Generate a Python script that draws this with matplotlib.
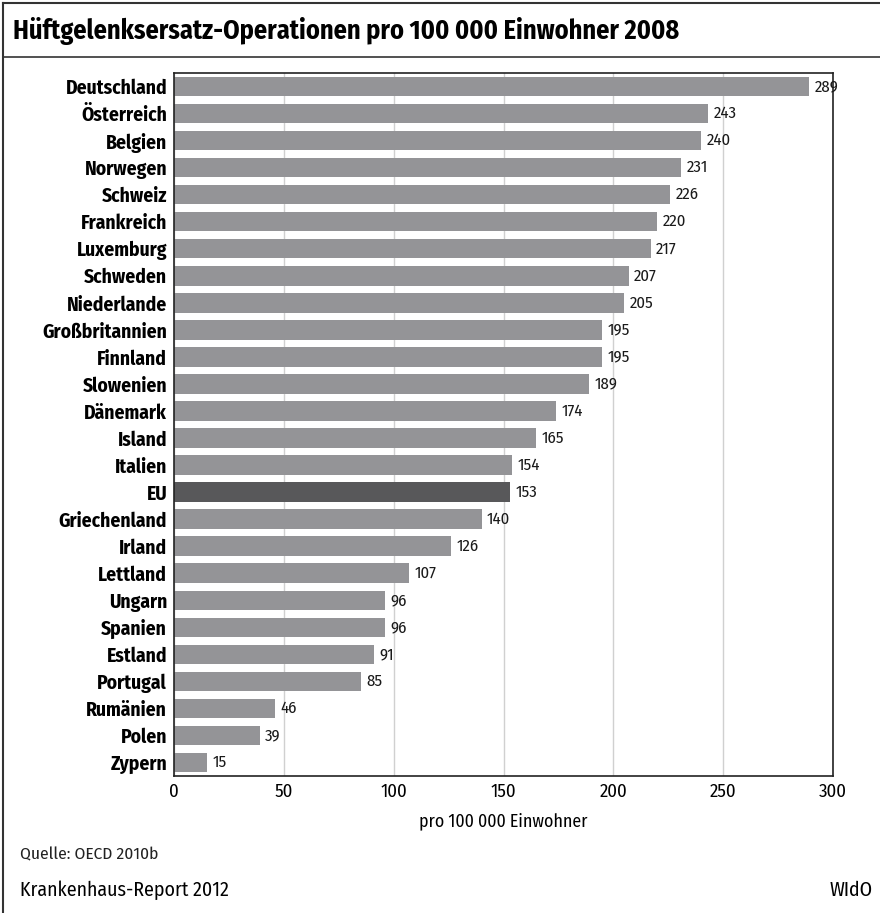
import matplotlib
matplotlib.use("Agg")
from matplotlib import pyplot as plt
from matplotlib.lines import Line2D
import numpy as np

countries = ["Deutschland", "Österreich", "Belgien", "Norwegen", "Schweiz",
             "Frankreich", "Luxemburg", "Schweden", "Niederlande",
             "Großbritannien", "Finnland", "Slowenien", "Dänemark", "Island",
             "Italien", "EU", "Griechenland", "Irland", "Lettland", "Ungarn",
             "Spanien", "Estland", "Portugal", "Rumänien", "Polen", "Zypern"]
values = [289, 243, 240, 231, 226, 220, 217, 207, 205, 195, 195, 189, 174,
          165, 154, 153, 140, 126, 107, 96, 96, 91, 85, 46, 39, 15]
x_ticks = [0, 50, 100, 150, 200, 250, 300]

plt.rcParams['font.family'] = ['Fira Sans Condensed', 'DejaVu Sans']

fig = plt.figure(figsize=(8.8, 9.13), dpi=100)
ax = fig.add_axes([174 / 880, 1 - 776 / 913, (833 - 174) / 880, (776 - 73) / 913])

ypos = np.arange(len(countries))
colors = ["#58585a" if c == "EU" else "#949497" for c in countries]
ax.barh(ypos, values, height=0.72, color=colors, zorder=2)
for y, v in zip(ypos, values):
    ax.text(v + 2.5, y, str(v), va="center", ha="left", fontsize=12, color="#1a1a1a")

ax.set_ylim(len(countries) - 0.5, -0.5)
ax.set_xlim(0, 300)
ax.set_yticks(ypos)
ax.set_yticklabels(countries, fontsize=14, fontweight="bold")
ax.set_xticks(x_ticks)
ax.set_xticklabels([str(t) for t in x_ticks], fontsize=13.5)
ax.tick_params(axis="both", length=0, pad=5)
ax.tick_params(axis="y", pad=5)
ax.grid(axis="x", color="#d0d0d0", linewidth=1, zorder=0)
ax.set_axisbelow(True)
for s in ax.spines.values():
    s.set_color("#222222")
    s.set_linewidth(1.2)
ax.set_xlabel("pro 100 000 Einwohner", fontsize=12.8, labelpad=8)

# Rahmen und Texte
fig.add_artist(Line2D([3 / 880, 3 / 880], [0, 1 - 3 / 913], color="#333333", lw=1.5))
fig.add_artist(Line2D([3 / 880, 1], [1 - 3 / 913, 1 - 3 / 913], color="#333333", lw=1.5))
fig.add_artist(Line2D([3 / 880, 1], [1 - 57 / 913, 1 - 57 / 913], color="#333333", lw=1.2))
fig.text(13 / 880, 1 - 31 / 913, "Hüftgelenksersatz-Operationen pro 100 000 Einwohner 2008",
         fontsize=18.9, fontweight="bold", va="center", ha="left")
fig.text(20 / 880, 1 - 855 / 913, "Quelle: OECD 2010b", fontsize=12.5, va="center", ha="left",
         color="#222222")
fig.text(20 / 880, 1 - 890 / 913, "Krankenhaus-Report 2012", fontsize=14.3, va="center", ha="left")
fig.text(873 / 880, 1 - 890 / 913, "WIdO", fontsize=14.3, va="center", ha="right")

fig.savefig("out.png", dpi=100)
